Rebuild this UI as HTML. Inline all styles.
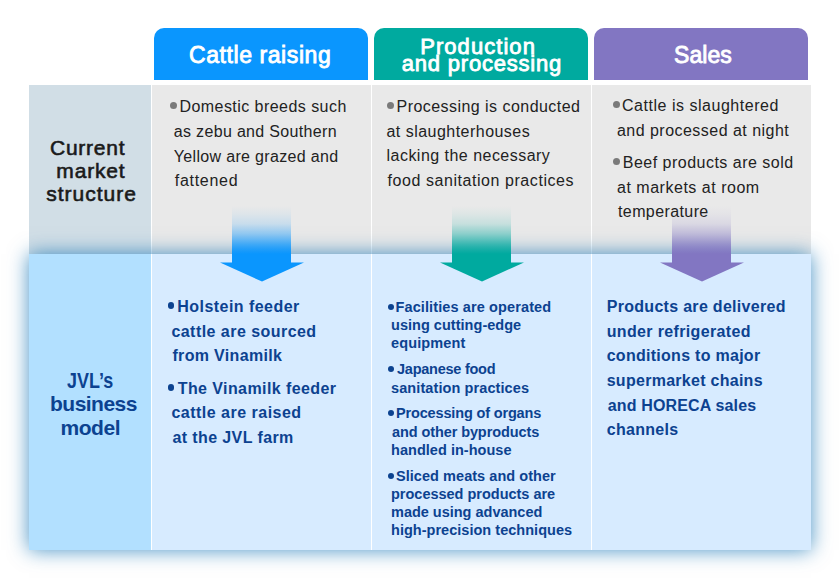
<!DOCTYPE html>
<html><head><meta charset="utf-8"><style>
*{margin:0;padding:0;box-sizing:border-box}
html,body{width:840px;height:579px;overflow:hidden;background:#fff}
body{position:relative;font-family:'Liberation Sans', sans-serif}
.a{position:absolute}
.t{position:absolute;white-space:nowrap;line-height:1;z-index:5}
.hd{position:absolute;top:28px;height:52px;border-radius:10px 10px 0 0}
.dot{position:absolute;width:7px;height:7px;border-radius:50%;z-index:5}
</style></head><body>
<div class="hd" style="left:154px;width:214px;background:#0a96fe"></div>
<div class="hd" style="left:374px;width:214px;background:#00aa9f"></div>
<div class="hd" style="left:594px;width:214px;background:#8276c2"></div>
<div class="a" style="left:29px;top:85px;width:122px;height:169px;background:#d1dee6"></div>
<div class="a" style="left:152px;top:85px;width:219px;height:169px;background:#e9e9e9"></div>
<div class="a" style="left:372px;top:85px;width:219px;height:169px;background:#e9e9e9"></div>
<div class="a" style="left:592px;top:85px;width:219px;height:169px;background:#e9e9e9"></div>
<div class="a" style="left:29px;top:254px;width:782px;height:296px;background:#fff;box-shadow:0 0 19px rgba(0,105,175,0.72);z-index:2"></div>
<div class="a" style="left:29px;top:254px;width:122px;height:296px;background:#b2e0ff;z-index:3"></div>
<div class="a" style="left:152px;top:254px;width:219px;height:296px;background:#d7ebff;z-index:3"></div>
<div class="a" style="left:372px;top:254px;width:219px;height:296px;background:#d7ebff;z-index:3"></div>
<div class="a" style="left:592px;top:254px;width:219px;height:296px;background:#d7ebff;z-index:3"></div>
<div class="a" style="left:231.7px;top:204px;width:59.6px;height:59px;background:linear-gradient(rgba(10,150,254,0) 2px,rgba(10,150,254,0.05) 10px,rgba(10,150,254,0.15) 19.8px,rgba(10,150,254,0.4) 30px,rgba(10,150,254,0.73) 40.5px,rgba(10,150,254,1) 50px);z-index:4"></div>
<svg class="a" style="left:219.5px;top:262px;z-index:4" width="84" height="20" viewBox="0 0 84 20"><polygon points="0,0.5 84,0.5 42,19.5" fill="rgb(10,150,254)"/></svg>
<div class="a" style="left:451.7px;top:204px;width:59.6px;height:59px;background:linear-gradient(rgba(0,170,159,0) 2px,rgba(0,170,159,0.05) 10px,rgba(0,170,159,0.15) 19.8px,rgba(0,170,159,0.4) 30px,rgba(0,170,159,0.73) 40.5px,rgba(0,170,159,1) 50px);z-index:4"></div>
<svg class="a" style="left:439.5px;top:262px;z-index:4" width="84" height="20" viewBox="0 0 84 20"><polygon points="0,0.5 84,0.5 42,19.5" fill="rgb(0,170,159)"/></svg>
<div class="a" style="left:671.7px;top:204px;width:59.6px;height:59px;background:linear-gradient(rgba(130,118,194,0) 2px,rgba(130,118,194,0.05) 10px,rgba(130,118,194,0.15) 19.8px,rgba(130,118,194,0.4) 30px,rgba(130,118,194,0.73) 40.5px,rgba(130,118,194,1) 50px);z-index:4"></div>
<svg class="a" style="left:659.5px;top:262px;z-index:4" width="84" height="20" viewBox="0 0 84 20"><polygon points="0,0.5 84,0.5 42,19.5" fill="rgb(130,118,194)"/></svg>
<div class="dot" style="left:169.60px;top:102.00px;width:7px;height:7px;background:#7a7a7a"></div>
<div class="dot" style="left:387.00px;top:101.90px;width:7px;height:7px;background:#7a7a7a"></div>
<div class="dot" style="left:612.95px;top:101.00px;width:7px;height:7px;background:#7a7a7a"></div>
<div class="dot" style="left:612.95px;top:158.00px;width:7px;height:7px;background:#7a7a7a"></div>
<div class="dot" style="left:167.70px;top:301.90px;width:6.8px;height:6.8px;background:#0c4290"></div>
<div class="dot" style="left:167.70px;top:383.80px;width:6.8px;height:6.8px;background:#0c4290"></div>
<div class="dot" style="left:387.60px;top:303.50px;width:6px;height:6px;background:#0c4290"></div>
<div class="dot" style="left:387.60px;top:366.00px;width:6px;height:6px;background:#0c4290"></div>
<div class="dot" style="left:387.60px;top:410.00px;width:6px;height:6px;background:#0c4290"></div>
<div class="dot" style="left:387.60px;top:472.50px;width:6px;height:6px;background:#0c4290"></div>
<div class="t" style="left:189.0px;top:44.2px;font-size:23px;font-weight:400;color:#fff;letter-spacing:0.577px;-webkit-text-stroke:0.85px #fff">Cattle raising</div>
<div class="t" style="left:420.2px;top:36.1px;font-size:22px;font-weight:400;color:#fff;letter-spacing:1.056px;-webkit-text-stroke:0.85px #fff">Production</div>
<div class="t" style="left:401.8px;top:53.4px;font-size:22px;font-weight:400;color:#fff;letter-spacing:0.785px;-webkit-text-stroke:0.85px #fff">and processing</div>
<div class="t" style="left:674.0px;top:43.6px;font-size:23px;font-weight:400;color:#fff;letter-spacing:0.075px;-webkit-text-stroke:0.85px #fff">Sales</div>
<div class="t" style="left:50.0px;top:136.9px;font-size:21px;font-weight:400;color:#1a1a1a;letter-spacing:0.75px;-webkit-text-stroke:0.6px #1a1a1a">Current</div>
<div class="t" style="left:56.3px;top:159.7px;font-size:21px;font-weight:400;color:#1a1a1a;letter-spacing:0.84px;-webkit-text-stroke:0.6px #1a1a1a">market</div>
<div class="t" style="left:46.2px;top:183.1px;font-size:21px;font-weight:400;color:#1a1a1a;letter-spacing:1.013px;-webkit-text-stroke:0.6px #1a1a1a">structure</div>
<div class="t" style="left:67.1px;top:370.2px;font-size:22px;font-weight:700;color:#0c4290;letter-spacing:0.0px;transform:scaleX(0.8159);transform-origin:0 0">JVL’s</div>
<div class="t" style="left:50.0px;top:393.4px;font-size:21px;font-weight:700;color:#0c4290;letter-spacing:-0.514px">business</div>
<div class="t" style="left:60.4px;top:416.5px;font-size:21px;font-weight:700;color:#0c4290;letter-spacing:-0.4px">model</div>
<div class="t" style="left:179.4px;top:99.0px;font-size:16px;font-weight:400;color:#222222;letter-spacing:0.453px">Domestic breeds such</div>
<div class="t" style="left:173.8px;top:123.9px;font-size:16px;font-weight:400;color:#222222;letter-spacing:0.326px">as zebu and Southern</div>
<div class="t" style="left:173.8px;top:148.9px;font-size:16px;font-weight:400;color:#222222;letter-spacing:0.33px">Yellow are grazed and</div>
<div class="t" style="left:174.8px;top:172.7px;font-size:16px;font-weight:400;color:#222222;letter-spacing:0.7px">fattened</div>
<div class="t" style="left:396.5px;top:98.8px;font-size:16px;font-weight:400;color:#222222;letter-spacing:0.455px">Processing is conducted</div>
<div class="t" style="left:386.5px;top:123.8px;font-size:16px;font-weight:400;color:#222222;letter-spacing:0.471px">at slaughterhouses</div>
<div class="t" style="left:386.5px;top:148.3px;font-size:16px;font-weight:400;color:#222222;letter-spacing:0.475px">lacking the necessary</div>
<div class="t" style="left:387.5px;top:173.3px;font-size:16px;font-weight:400;color:#222222;letter-spacing:0.562px">food sanitation practices</div>
<div class="t" style="left:622.0px;top:98.0px;font-size:16px;font-weight:400;color:#222222;letter-spacing:0.525px">Cattle is slaughtered</div>
<div class="t" style="left:617.0px;top:122.5px;font-size:16px;font-weight:400;color:#222222;letter-spacing:0.467px">and processed at night</div>
<div class="t" style="left:622.8px;top:154.5px;font-size:16px;font-weight:400;color:#222222;letter-spacing:0.486px">Beef products are sold</div>
<div class="t" style="left:617.0px;top:179.5px;font-size:16px;font-weight:400;color:#222222;letter-spacing:0.518px">at markets at room</div>
<div class="t" style="left:618.0px;top:203.5px;font-size:16px;font-weight:400;color:#222222;letter-spacing:0.4px">temperature</div>
<div class="t" style="left:177.3px;top:298.9px;font-size:16px;font-weight:700;color:#0c4290;letter-spacing:0.457px">Holstein feeder</div>
<div class="t" style="left:171.4px;top:323.9px;font-size:16px;font-weight:700;color:#0c4290;letter-spacing:0.459px">cattle are sourced</div>
<div class="t" style="left:172.4px;top:348.2px;font-size:16px;font-weight:700;color:#0c4290;letter-spacing:0.342px">from Vinamilk</div>
<div class="t" style="left:177.7px;top:381.1px;font-size:16px;font-weight:700;color:#0c4290;letter-spacing:0.417px">The Vinamilk feeder</div>
<div class="t" style="left:171.4px;top:405.4px;font-size:16px;font-weight:700;color:#0c4290;letter-spacing:0.494px">cattle are raised</div>
<div class="t" style="left:172.4px;top:430.3px;font-size:16px;font-weight:700;color:#0c4290;letter-spacing:0.4px">at the JVL farm</div>
<div class="t" style="left:395.5px;top:299.8px;font-size:14.5px;font-weight:700;color:#0c4290;letter-spacing:0.114px">Facilities are operated</div>
<div class="t" style="left:391.0px;top:318.0px;font-size:14.5px;font-weight:700;color:#0c4290;letter-spacing:0.029px">using cutting-edge</div>
<div class="t" style="left:391.0px;top:336.0px;font-size:14.5px;font-weight:700;color:#0c4290;letter-spacing:0.125px">equipment</div>
<div class="t" style="left:397.0px;top:362.3px;font-size:14.5px;font-weight:700;color:#0c4290;letter-spacing:-0.25px">Japanese food</div>
<div class="t" style="left:391.0px;top:380.5px;font-size:14.5px;font-weight:700;color:#0c4290;letter-spacing:0.095px">sanitation practices</div>
<div class="t" style="left:396.0px;top:406.3px;font-size:14.5px;font-weight:700;color:#0c4290;letter-spacing:-0.158px">Processing of organs</div>
<div class="t" style="left:392.0px;top:424.9px;font-size:14.5px;font-weight:700;color:#0c4290;letter-spacing:-0.095px">and other byproducts</div>
<div class="t" style="left:391.0px;top:442.5px;font-size:14.5px;font-weight:700;color:#0c4290;letter-spacing:0.033px">handled in-house</div>
<div class="t" style="left:396.0px;top:468.9px;font-size:14.5px;font-weight:700;color:#0c4290;letter-spacing:0.048px">Sliced meats and other</div>
<div class="t" style="left:391.0px;top:487.1px;font-size:14.5px;font-weight:700;color:#0c4290;letter-spacing:-0.01px">processed products are</div>
<div class="t" style="left:391.0px;top:505.2px;font-size:14.5px;font-weight:700;color:#0c4290;letter-spacing:-0.011px">made using advanced</div>
<div class="t" style="left:391.0px;top:523.3px;font-size:14.5px;font-weight:700;color:#0c4290;letter-spacing:0.025px">high-precision techniques</div>
<div class="t" style="left:606.7px;top:298.9px;font-size:16px;font-weight:700;color:#0c4290;letter-spacing:0.3px">Products are delivered</div>
<div class="t" style="left:606.7px;top:323.9px;font-size:16px;font-weight:700;color:#0c4290;letter-spacing:0.353px">under refrigerated</div>
<div class="t" style="left:606.7px;top:348.2px;font-size:16px;font-weight:700;color:#0c4290;letter-spacing:0.278px">conditions to major</div>
<div class="t" style="left:606.7px;top:372.8px;font-size:16px;font-weight:700;color:#0c4290;letter-spacing:0.276px">supermarket chains</div>
<div class="t" style="left:607.7px;top:397.7px;font-size:16px;font-weight:700;color:#0c4290;letter-spacing:0.153px">and HORECA sales</div>
<div class="t" style="left:606.7px;top:421.7px;font-size:16px;font-weight:700;color:#0c4290;letter-spacing:0.314px">channels</div>
</body></html>
